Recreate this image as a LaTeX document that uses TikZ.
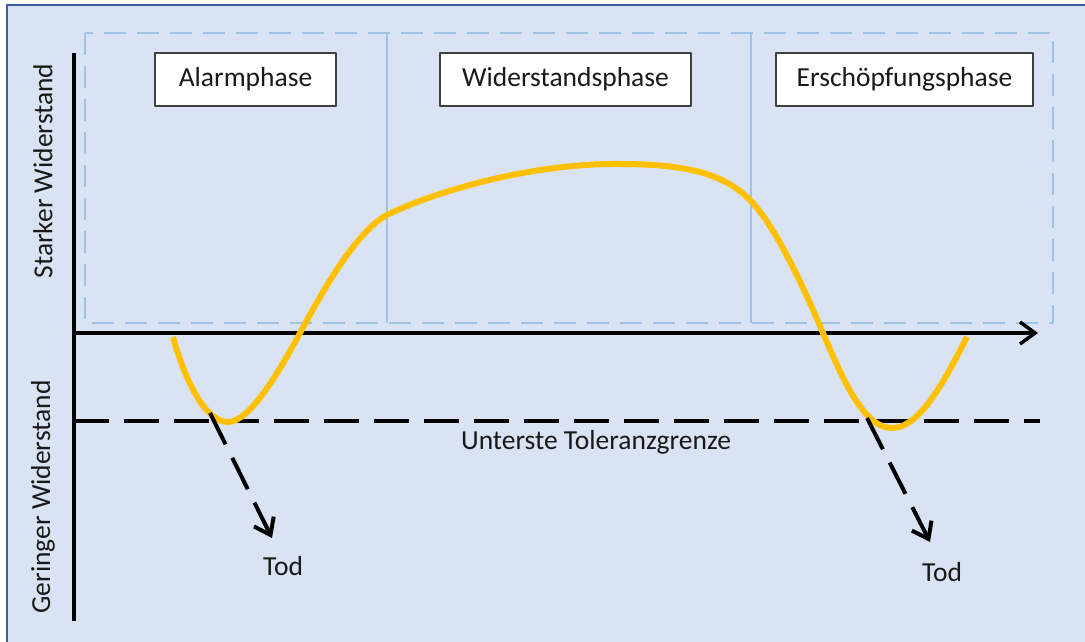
\documentclass[tikz,border=0pt]{standalone}
\usepackage{fontspec}
\setmainfont{Carlito}
\usetikzlibrary{arrows.meta}
\definecolor{bgblue}{HTML}{DAE3F3}
\definecolor{frameblue}{HTML}{3A5C9E}
\definecolor{phaseblue}{HTML}{9DC3E6}
\definecolor{curveorange}{HTML}{FFC000}

\begin{document}
\begin{tikzpicture}[x=1pt,y=-1pt,line join=round,
          every node/.style={font=\fontsize{27.5}{32}\selectfont,text=black!90},
          phasebox/.style={draw=black!75,line width=1.5pt,fill=white,
            minimum height=53pt,inner sep=0pt},
          >={Straight Barb[length=15pt,width=22pt]}]
          \useasboundingbox(0,0)rectangle(1085,641);
          % background and frame
          \draw[frameblue,line width=2.5pt,fill=bgblue](7,5)rectangle(1100,660);
          % phase regions
          \draw[phaseblue,line width=2.5pt,dash pattern=on 22pt off 11pt](85,33)rectangle(1053,323);
          \foreach \x in {387,751}
            {\draw[phaseblue,line width=2pt](\x,33)--(\x,323);}
          \node[phasebox,minimum width=181pt](alarm)at(245.5,79.5){Alarmphase};
          \node[phasebox,minimum width=251pt](wider)at(565.5,79.5){Widerstandsphase};
          \node[phasebox,minimum width=257pt](ersch)at(904.5,79.5){Erschöpfungsphase};
          % axes
          \coordinate(top)at(74,53);
          \coordinate(bottom)at(74,621);
          \coordinate(origin)at(74,333);
          \coordinate(xend)at(1038,333);
          \draw[line width=3.5pt](top)--(bottom);
          \draw[->,line width=3.5pt](origin)--(xend);
          \node[rotate=90](strong)at(43,171){Starker Widerstand};
          \node[rotate=90](weak)at(43,497){Geringer Widerstand};
          % tolerance limit
          \coordinate(limstart)at(74,421);
          \coordinate(limend)at(1040,421);
          \draw[line width=4pt,dash pattern=on 35pt off 15pt](limstart)--(limend);
          \node(limit)at(596,442){Unterste Toleranzgrenze};
          % resistance curve
          \draw[curveorange,line width=6pt](173,337)
            ..controls(185,380)and(205,422)..(228,422)
            ..controls(250,422)and(280,370)..(300,333)
            ..controls(320,296)and(355,232)..(387,215)
            ..controls(420,198)and(520,163)..(620,164)
            ..controls(690,164)and(725,175)..(750,200)
            ..controls(775,225)and(805,290)..(823,333)
            ..controls(845,385)and(865,428)..(892,428)
            ..controls(920,428)and(945,380)..(967,337);
          % death arrows
          \coordinate(dieleft)at(210,413);
          \coordinate(dieright)at(867,418);
          \node(todleft)at(283,566){Tod};
          \node(todright)at(942,572){Tod};
          \draw[->,line width=4pt,dash pattern=on 35pt off 15pt](dieleft)--(272,538);
          \draw[->,line width=4pt,dash pattern=on 35pt off 15pt](dieright)--(930,542);
        \end{tikzpicture}
\end{document}
